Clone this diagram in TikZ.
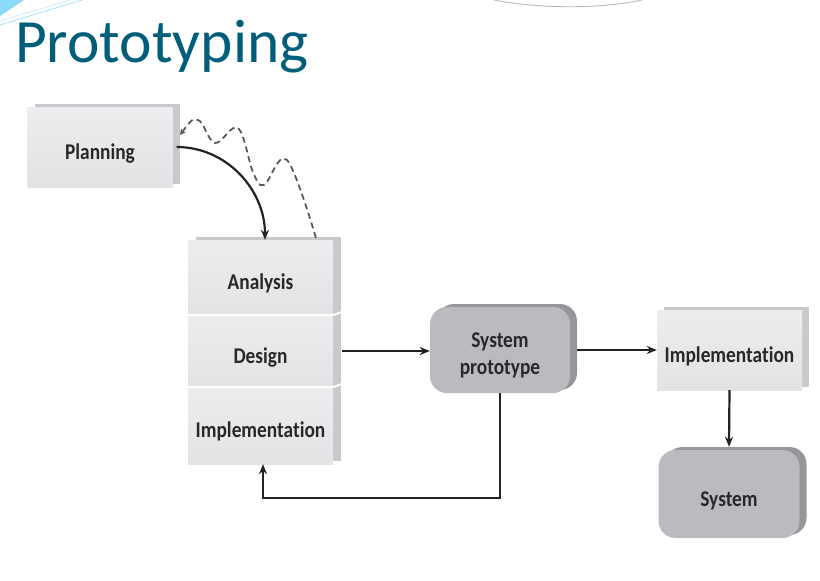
\documentclass[tikz,border=0pt]{standalone}
\usepackage{fontspec}
\setmainfont{Carlito}
\newfontfamily\lab{Carlito}[FakeStretch=0.86, Ligatures=NoCommon]
\usetikzlibrary{arrows.meta,shadows,backgrounds}
\definecolor{titlec}{RGB}{0,94,122}
\definecolor{face}{RGB}{226,227,229}
\definecolor{facetop}{RGB}{236,237,238}
\definecolor{sideface}{RGB}{200,201,204}
\definecolor{pillc}{RGB}{186,187,191}
\definecolor{pillside}{RGB}{150,151,155}
\definecolor{txt}{RGB}{40,40,42}
\definecolor{ln}{RGB}{34,34,34}
\begin{document}
\begin{tikzpicture}[x=1pt,y={(0pt,-1pt)},
  lbl/.style={font=\lab\bfseries\fontsize{22.5}{24}\selectfont, text=txt},
  low/.style={text height=24pt, text depth=0pt},
  box/.style={lbl, low, rectangle, inner sep=0pt, top color=facetop, bottom color=face, minimum width=145pt},
  boxside/.style={copy shadow={shadow xshift=7pt, shadow yshift=3pt, fill=sideface, draw=none}},
  pill/.style={lbl, rectangle, rounded corners=17pt, inner sep=0pt, fill=pillc, align=center,
     copy shadow={shadow xshift=7pt, shadow yshift=3pt, fill=pillside, draw=none}},
  arr/.style={draw=ln, line width=2.2pt, -{Stealth[length=10pt,width=8pt]}},
  wavyline/.style={draw=ln!75, line width=1.8pt, dash pattern=on 6pt off 4pt}
]
\useasboundingbox (0,0) rectangle (820,581);

% slide decoration
\fill[cyan!45] (0,0) -- (24,0) -- (0,16) -- cycle;
\draw[cyan!40, line width=0.7pt] (0,25) -- (82,0);
\draw[cyan!30, line width=0.5pt] (0,21) -- (70,0);
\draw[gray!55, line width=0.9pt] (494,0) .. controls (540,9) and (600,9) .. (642,0);

% title
\node[anchor=base west, inner sep=0pt, text=titlec, font=\fontsize{61.5}{70}\selectfont] (title) at (15,62) {Prototyping};

% planning
\node[box, boxside, minimum height=80pt] (plan) at (100,147) {Planning};

% stack
\node[box, minimum height=75pt] (ana) at (260.5,277.5) {Analysis};
\node[box, minimum height=72pt] (des) at (260.5,351) {Design};
\node[box, minimum height=77pt] (imp1) at (260.5,425.5) {Implementation};
\begin{scope}[on background layer]
  \fill[sideface] ([xshift=8pt,yshift=3pt]ana.north west) rectangle ([xshift=8pt,yshift=3pt]imp1.south east);
\end{scope}
\draw[white, line width=2pt] (ana.south west) -- (ana.south east) -- ++(8,-3);
\draw[white, line width=2pt] (des.south west) -- (des.south east) -- ++(8,-3);

% system prototype
\node[pill, minimum width=140pt, minimum height=86pt] (proto) at (500,350) {\rule{0pt}{26pt}System\\[3pt]prototype};

% implementation (right)
\node[box, boxside, minimum height=80pt] (imp2) at (729.5,350) {Implementation};

% system
\node[pill, low, minimum width=141pt, minimum height=88pt] (sys) at (729,494) {System};

% connectors
\draw[arr] ([xshift=4pt]plan.east) to[out=0,in=90] ([xshift=4.5pt]ana.north);
\draw[wavyline, {Stealth[length=6pt,width=6pt]}-] plot[smooth, tension=0.6] coordinates
  {(180,135) (198,120) (215,143) (238,128) (253,172) (264,185) (287,160) (316,238)};
\draw[arr] ([xshift=9pt]des.east) -- (des.east -| proto.west);
\draw[arr] ([xshift=7pt]proto.east) -- (imp2.west);
\draw[arr] (imp2.south) -- ([yshift=3pt]sys.north);
\coordinate (fb) at (263,498);
\draw[arr] (proto.south) |- (fb) -- (imp1.south -| fb);
\end{tikzpicture}
\end{document}
